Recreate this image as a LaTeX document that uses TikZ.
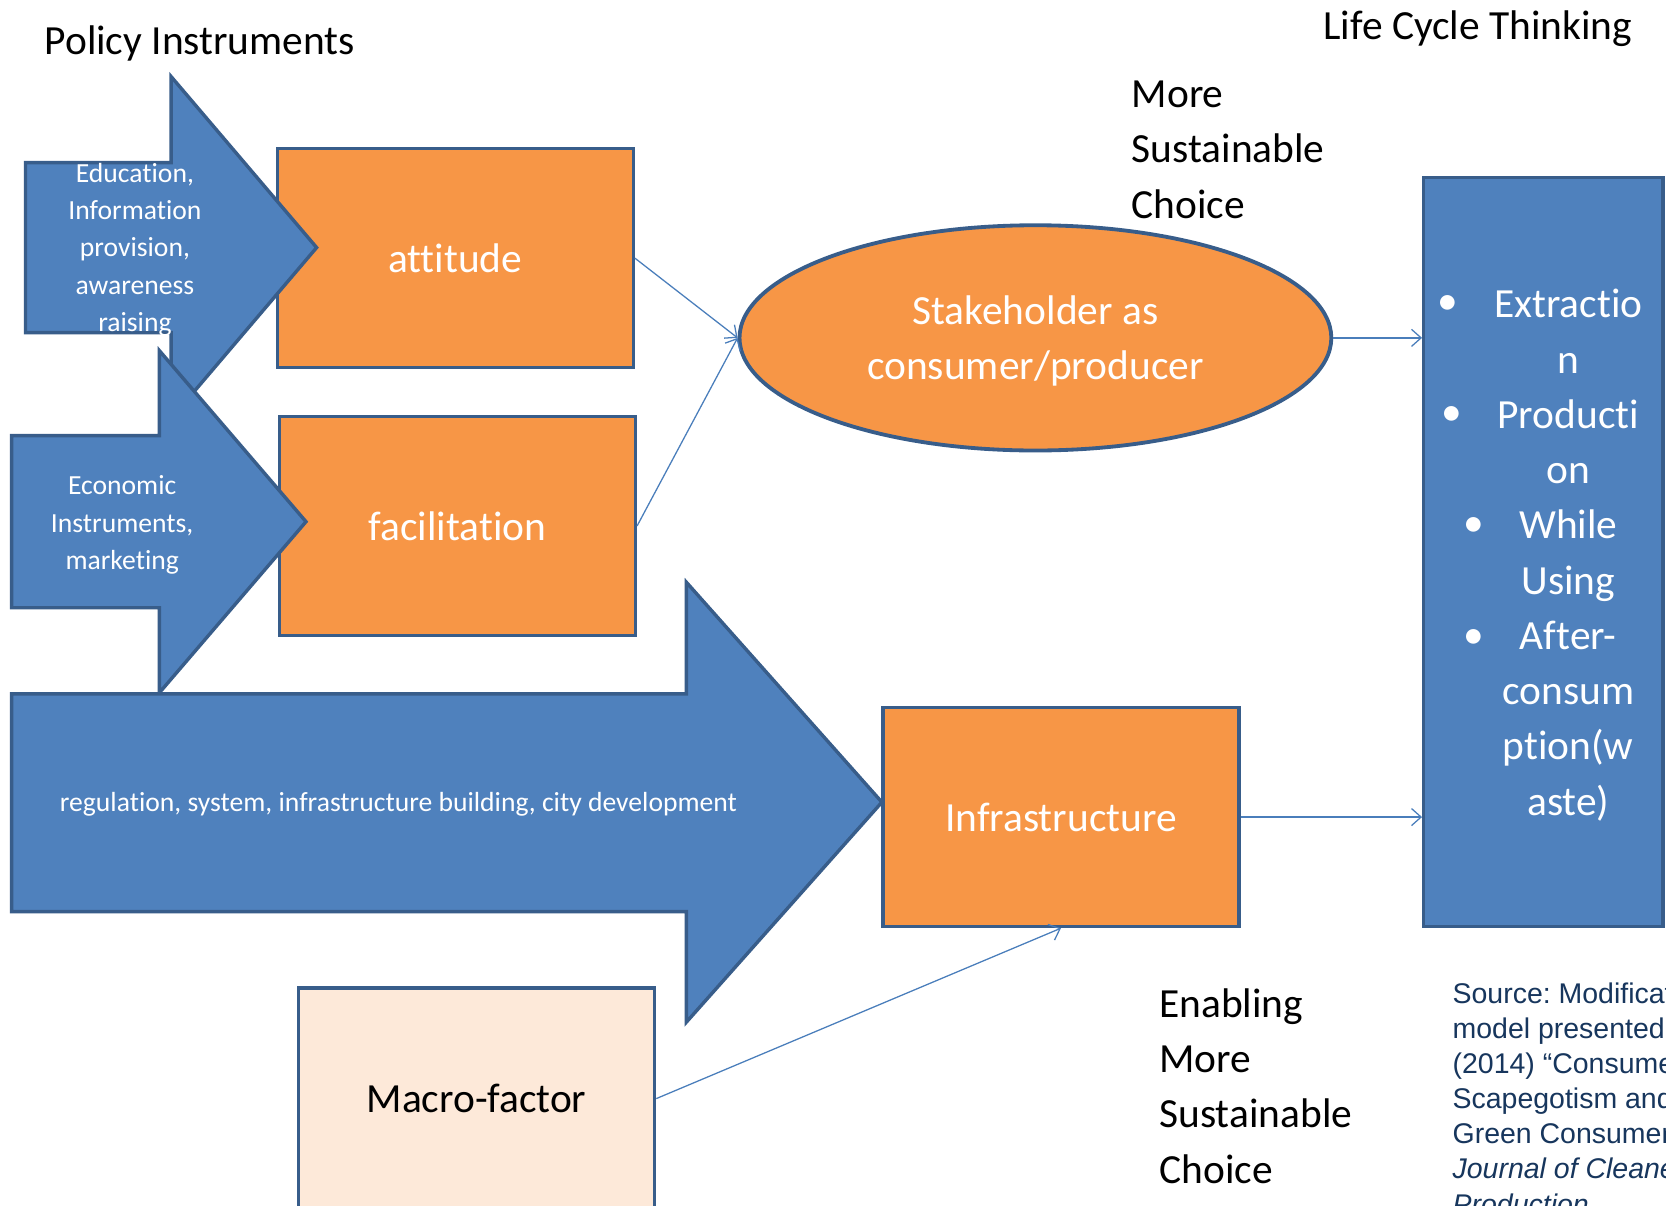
\documentclass[tikz,border=0pt]{standalone}
\usepackage{fontspec}
\setmainfont{Carlito}[Ligatures={NoCommon}]
\newfontfamily\srcfont{Liberation Sans}
\usetikzlibrary{arrows.meta,shapes.geometric}
\definecolor{pblue}{HTML}{4F81BD}
\definecolor{bord}{HTML}{385D8A}
\definecolor{porange}{HTML}{F79646}
\definecolor{peach}{HTML}{FDE9D9}
\definecolor{lineblue}{HTML}{4A7EBB}
\definecolor{srcblue}{HTML}{17365D}
\newcommand\fsbig{\fontsize{39}{52}\selectfont}
\newcommand\fssmall{\fontsize{26}{35}\selectfont}
\newcommand\fssrc{\fontsize{26.8}{33}\selectfont}
\frenchspacing
\tikzset{
  obox/.style={draw=bord, line width=3.2pt, fill=porange, rectangle, inner sep=0pt, text=white, font=\fsbig},
  mbox/.style={draw=bord, line width=3.2pt, fill=peach, rectangle, inner sep=0pt, text=black, font=\fsbig},
  bbox/.style={draw=bord, line width=3.2pt, fill=pblue, rectangle, inner sep=0pt},
  barrow/.style={draw=bord, line width=3.2pt, fill=pblue, line join=miter},
  conn/.style={draw=lineblue, line width=1.2pt, -{Straight Barb[length=9pt,width=16pt]}},
  ttext/.style={text=black, font=\fsbig, inner sep=0pt},
  wsmall/.style={text=white, font=\fssmall, align=center, inner sep=0pt},
  wbig/.style={text=white, font=\fsbig, align=center, inner sep=0pt},
  bullet/.style={text=white, font=\fsbig, inner sep=0pt}
}
\begin{document}
\begin{tikzpicture}[x=1pt,y=-1pt]
\useasboundingbox (0,0) rectangle (1568,1135);
\clip (0,0) rectangle (1568,1135);
\fill[white] (0,0) rectangle (1568,1135);

% boxes
\node[obox, minimum width=335pt, minimum height=206pt] (att) at (428.5,243) {attitude};
\node[obox, minimum width=335pt, minimum height=206pt] (fac) at (430.5,495) {facilitation};
\node[obox, minimum width=335pt, minimum height=206pt] (inf) at (998.5,769) {Infrastructure};
\node[mbox, minimum width=335pt, minimum height=208pt] (mac) at (448.5,1034) {Macro-factor};
\node[bbox, minimum width=225pt, minimum height=705pt] (rb) at (1452.5,519.5) {};
\node[ellipse, draw=bord, line width=3.6pt, fill=porange, inner sep=0pt,
      minimum width=557pt, minimum height=212pt] (ell) at (974.5,318) {};
\node[wbig] (ellt) at (974.5,321) {Stakeholder as\\consumer/producer};

% block arrows
\draw[barrow] (24,153) -- (161,153) -- (161,72) -- (298,233) -- (161,394) -- (161,313) -- (24,313) -- cycle;
\node[wsmall] (t1) at (127,235) {Education,\\Information\\provision,\\awareness\\raising};
\draw[barrow] (11,410) -- (150,410) -- (150,330) -- (288,491) -- (150,652) -- (150,572) -- (11,572) -- cycle;
\node[wsmall] (t2) at (115,494) {Economic\\Instruments,\\marketing};
\draw[barrow] (11,653) -- (646,653) -- (646,548) -- (830,755) -- (646,962) -- (646,858) -- (11,858) -- cycle;
\node[wsmall] (t3) at (375,757) {regulation, system, infrastructure building, city development};

% right column text
\node[wbig] (lc) at (1476,522.5) {Extractio\\n\\Producti\\on\\While\\Using\\After-\\consum\\ption(w\\aste)};
\node[bullet] (b1) at (1363,287) {•};
\node[bullet] (b2) at (1366,392) {•};
\node[bullet] (b3) at (1387,496) {•};
\node[bullet] (b4) at (1387,601) {•};

% titles and labels
\node[ttext] (pi) at (188,41) {Policy Instruments};
\node[ttext] (lct) at (1391,27) {Life Cycle Thinking};
\node[ttext, align=left, anchor=west] (msc) at (1065,141) {More\\Sustainable\\Choice};
\node[ttext, align=left, anchor=west] (emsc) at (1091,1022) {Enabling\\More\\Sustainable\\Choice};
\node[text=srcblue, font=\srcfont\fssrc, align=left, anchor=north west, inner sep=0pt] (src) at (1367,925)
  {Source: Modification\\model presented\\(2014) “Consumer\\Scapegotism and\\Green Consumerism”\\\itshape Journal of Cleaner\\\itshape Production};

% connectors
\draw[conn] (att.east) -- (ell.west);
\draw[conn] (fac.east) -- (ell.west);
\draw[conn] (ell.east) -- (ell.east -| rb.west);
\draw[conn] (inf.east) -- (inf.east -| rb.west);
\draw[conn] (mac.east) -- (inf.south);
\end{tikzpicture}
\end{document}
